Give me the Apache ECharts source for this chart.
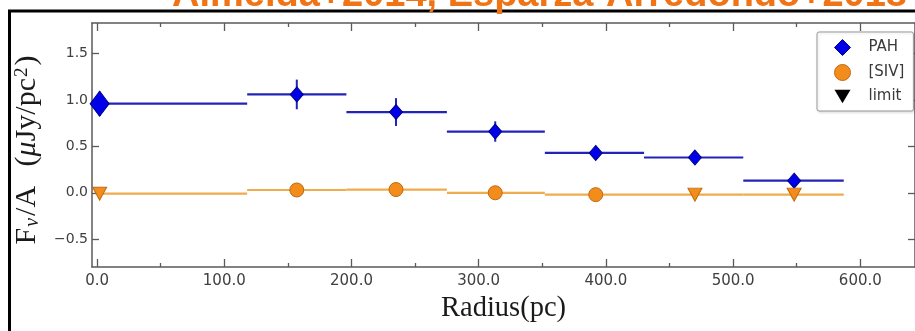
<!DOCTYPE html>
<html>
<head>
<meta charset="utf-8">
<script src="https://cdn.jsdelivr.net/npm/echarts@6/dist/echarts.min.js"></script>
<style>
html,body{margin:0;padding:0;background:#fff;}
#chart{width:915px;height:331px;}
</style>
</head>
<body>
<div id="chart"></div>
<script>
// ---- data ----
const titleText = 'Almeida+2014, Esparza-Arredondo+2018';
const binLo  = [0, 118, 196, 275, 352, 430, 508];
const binHi  = [118, 196, 275, 352, 430, 508, 587];
const radius = [2, 157, 235, 313, 392, 470, 548];
const pah    = [0.96, 1.06, 0.87, 0.66, 0.43, 0.38, 0.13];
const pahErr = [0.13, 0.16, 0.15, 0.11, 0.04, 0.03, 0.03];
const siv    = [-0.01, 0.03, 0.035, 0.0, -0.02, -0.02, -0.02];
const sivIsLimit = [true, false, false, false, false, true, true];
const xTicks = [0, 100, 200, 300, 400, 500, 600];
const xMinorTicks = [50, 150, 250, 350, 450, 550];
const yTicks = [-0.5, 0, 0.5, 1.0, 1.5];
const seriesNames = ['PAH', '[SIV]', 'limit'];

// ---- styles ----
const blueLine = '#2323b8', blueFill = '#0000e8', blueEdge = '#00008c';
const orangeLine = '#efab4e', orangeFill = '#f28c1a', orangeEdge = '#c06a12';
const axisCol = '#5a5a5a';
const downTri = 'path://M0,0L20,0L10,17Z';

const chart = echarts.init(document.getElementById('chart'), null, {renderer: 'canvas'});

function hSeg(color) {
  return function (params, api) {
    const a = api.coord([api.value(0), api.value(2)]);
    const b = api.coord([api.value(1), api.value(2)]);
    return {type: 'line', shape: {x1: a[0], y1: a[1], x2: b[0], y2: b[1]},
            style: {stroke: color, lineWidth: 2.2}};
  };
}
function vSeg(color) {
  return function (params, api) {
    const a = api.coord([api.value(0), api.value(1)]);
    const b = api.coord([api.value(0), api.value(2)]);
    return {type: 'line', shape: {x1: a[0], y1: a[1], x2: b[0], y2: b[1]},
            style: {stroke: color, lineWidth: 2}};
  };
}

const pahBins = binLo.map((lo, i) => [lo, binHi[i], pah[i]]);
const pahErrBars = radius.map((r, i) => [r, pah[i] - pahErr[i], pah[i] + pahErr[i]]);
const sivBins = binLo.map((lo, i) => [lo, binHi[i], siv[i]]);
const pahPts = radius.map((r, i) => i === 0 ? {value: [r, pah[i]], symbolSize: [19, 25]} : [r, pah[i]]);
const sivPts = radius.map((r, i) => sivIsLimit[i] ? null : [r, siv[i]]).filter(d => d);
const limPts = radius.map((r, i) => sivIsLimit[i] ? [r, siv[i]] : null).filter(d => d);

const xMin = -4, xMax = 643, yMin = -0.8, yMax = 1.83;
const labelFont = 'DejaVu Sans';
const serif = 'Liberation Serif';

function xAx(pos, ticks, len, showLine, showLabel) {
  return {
    type: 'value', position: pos, min: xMin, max: xMax,
    axisLine: {show: showLine, onZero: false, lineStyle: {color: axisCol, width: 1.5}},
    axisTick: {show: true, inside: true, length: len, customValues: ticks, lineStyle: {color: axisCol, width: 1.3}},
    axisLabel: {show: showLabel, customValues: xTicks, formatter: v => v.toFixed(1), color: '#404040',
                fontFamily: labelFont, fontSize: 15, margin: 7},
    splitLine: {show: false}
  };
}

const option = {
  backgroundColor: '#fff',
  animation: false,
  grid: {left: 92, right: -3, top: 23, bottom: 64, containLabel: false},
  legend: {
    orient: 'vertical', left: 817, top: 32,
    padding: [7, 9, 7, 17], itemGap: 8, itemWidth: 16, itemHeight: 16,
    backgroundColor: '#fff', borderColor: '#9a9a9a', borderWidth: 1, borderRadius: 2,
    shadowColor: 'rgba(0,0,0,0.15)', shadowBlur: 3, shadowOffsetX: 1, shadowOffsetY: 1,
    formatter: name => '{a|' + name + '}',
    textStyle: {fontFamily: labelFont, fontSize: 15, color: '#3a3a3a',
                rich: {a: {fontFamily: labelFont, fontSize: 15, color: '#3a3a3a', padding: [0, 0, 0, 13]}}},
    data: [
      {name: seriesNames[0], icon: 'diamond', itemStyle: {color: blueFill, borderColor: blueEdge, borderWidth: 1}},
      {name: seriesNames[1], icon: 'circle', itemStyle: {color: orangeFill, borderColor: orangeEdge, borderWidth: 1}},
      {name: seriesNames[2], icon: downTri, itemStyle: {color: '#000', borderColor: '#000', borderWidth: 0}}
    ]
  },
  xAxis: [
    Object.assign(xAx('bottom', xTicks, 8, true, true), {
      name: 'Radius(pc)', nameLocation: 'middle', nameGap: 24,
      nameTextStyle: {fontFamily: serif, fontSize: 28.5, color: '#1a1a1a'}
    }),
    xAx('bottom', xMinorTicks, 4, false, false),
    xAx('top', xTicks, 8, true, false),
    xAx('top', xMinorTicks, 4, false, false)
  ],
  yAxis: [
    {
      type: 'value', position: 'left', min: yMin, max: yMax,
      axisLine: {show: true, onZero: false, lineStyle: {color: axisCol, width: 1.5}},
      axisTick: {show: true, inside: true, length: 7, customValues: yTicks, lineStyle: {color: axisCol, width: 1.3}},
      axisLabel: {customValues: yTicks, formatter: v => (v < 0 ? '\u2212' : '') + Math.abs(v).toFixed(1),
                  color: '#404040', fontFamily: labelFont, fontSize: 14, margin: 4},
      splitLine: {show: false},
      name: '{n|F}{s|\u03bd}{n|/A}{g| }{n|(}{i|\u03bc}{n|Jy/pc}{p|2}{e|)}',
      nameLocation: 'middle', nameGap: 42, nameRotate: 90,
      nameTextStyle: {
        fontFamily: serif, fontSize: 30, color: '#1a1a1a',
        rich: {
          n: {fontFamily: serif, fontSize: 30, color: '#1a1a1a'},
          e: {fontFamily: serif, fontSize: 30, color: '#1a1a1a', padding: [0, 10, 0, 0]},
          g: {fontFamily: serif, fontSize: 30, padding: [0, 6, 0, 6]},
          i: {fontFamily: serif, fontSize: 30, fontStyle: 'italic', color: '#1a1a1a'},
          s: {fontFamily: serif, fontSize: 20, fontStyle: 'italic', color: '#1a1a1a', verticalAlign: 'bottom', padding: [11, 2, 0, 1]},
          p: {fontFamily: serif, fontSize: 19, color: '#1a1a1a', verticalAlign: 'top', padding: [0, 2, 11, 1]}
        }
      }
    },
    {
      type: 'value', position: 'right', min: yMin, max: yMax,
      axisLine: {show: true, onZero: false, lineStyle: {color: axisCol, width: 1.5}},
      axisTick: {show: true, inside: true, length: 7, customValues: yTicks, lineStyle: {color: axisCol, width: 1.3}},
      axisLabel: {show: false}, splitLine: {show: false}
    }
  ],
  graphic: [
    {type: 'rect', shape: {x: 9.5, y: 11, width: 1000, height: 1000},
     style: {fill: null, stroke: '#000', lineWidth: 3}, z: -1, silent: true},
    {type: 'text', x: 172, y: 15, z: 100,
     style: {text: titleText, fill: '#f07416', font: 'bold 38px "Liberation Sans"', verticalAlign: 'bottom', align: 'left'}}
  ],
  series: [
    {type: 'custom', name: 'pahBins', renderItem: hSeg(blueLine), data: pahBins, encode: {x: [0, 1], y: 2}, z: 2, silent: true},
    {type: 'custom', name: 'pahErr', renderItem: vSeg(blueLine), data: pahErrBars, encode: {x: 0, y: [1, 2]}, z: 2, silent: true},
    {type: 'custom', name: 'sivBins', renderItem: hSeg(orangeLine), data: sivBins, encode: {x: [0, 1], y: 2}, z: 1, silent: true},
    {type: 'scatter', name: seriesNames[0], data: pahPts, symbol: 'diamond', symbolSize: [13, 15], z: 5,
     itemStyle: {color: blueFill, borderColor: blueEdge, borderWidth: 1, opacity: 1}},
    {type: 'scatter', name: seriesNames[1], data: sivPts, symbol: 'circle', symbolSize: 14, z: 5,
     itemStyle: {color: orangeFill, borderColor: orangeEdge, borderWidth: 1, opacity: 1}},
    {type: 'scatter', name: seriesNames[2], data: limPts, symbol: downTri, symbolSize: [14, 13], z: 5,
     itemStyle: {color: orangeFill, borderColor: orangeEdge, borderWidth: 1, opacity: 1}}
  ]
};
chart.setOption(option);
</script>
</body>
</html>
